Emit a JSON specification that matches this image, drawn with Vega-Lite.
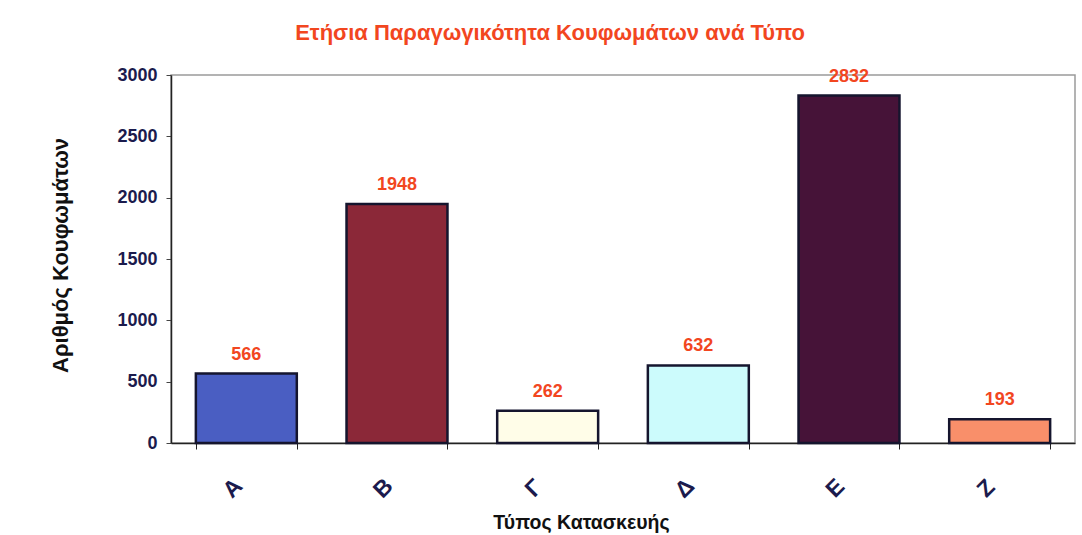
{
  "$schema": "https://vega.github.io/schema/vega-lite/v6.json",
  "autosize": {"type": "none"},
  "width": 904,
  "height": 368,
  "padding": {"left": 171, "top": 75, "right": 7, "bottom": 92},
  "background": "white",
  "title": {
    "text": "Ετήσια Παραγωγικότητα Κουφωμάτων ανά Τύπο",
    "color": "#f2461f",
    "fontSize": 22,
    "font": "Liberation Sans",
    "fontWeight": "bold",
    "anchor": "middle",
    "dx": -73,
    "offset": 21
  },
  "config": {
    "view": {"stroke": "#9a9a9a", "strokeWidth": 1.5},
    "font": "Liberation Sans"
  },
  "data": {
    "values": [
      {"type": "Α", "value": 566, "color": "#4a5ec2"},
      {"type": "Β", "value": 1948, "color": "#8b2838"},
      {"type": "Γ", "value": 262, "color": "#fffde8"},
      {"type": "Δ", "value": 632, "color": "#ccfbfc"},
      {"type": "Ε", "value": 2832, "color": "#461338"},
      {"type": "Ζ", "value": 193, "color": "#f98f6a"}
    ]
  },
  "encoding": {
    "x": {
      "field": "type",
      "type": "nominal",
      "sort": null,
      "scale": {"paddingInner": 0.33, "paddingOuter": 0.165},
      "axis": {
        "title": "Τύπος Κατασκευής",
        "titleFontSize": 19.5,
        "titleFontWeight": "bold",
        "titleColor": "#111111",
        "titleX": 410,
        "titleY": 79,
        "titleBaseline": "middle",
        "titleAnchor": "middle",
        "labelAngle": -45,
        "labelAlign": "center",
        "labelBaseline": "middle",
        "labelFontSize": 23,
        "labelFontWeight": "bold",
        "labelColor": "#1b1b4d",
        "labelPadding": 39,
        "labelOffset": -14,
        "tickBand": "extent",
        "tickSize": 6,
        "tickColor": "#222222",
        "domainColor": "#222222",
        "domainWidth": 1.5
      }
    },
    "y": {
      "field": "value",
      "type": "quantitative",
      "scale": {"domain": [0, 3000], "nice": false},
      "axis": {
        "title": "Αριθμός Κουφωμάτων",
        "titleFontSize": 22,
        "titleFontWeight": "bold",
        "titleColor": "#111111",
        "titleAngle": -90,
        "titleX": -111,
        "titleY": 180,
        "titleBaseline": "middle",
        "titleAnchor": "middle",
        "values": [0, 500, 1000, 1500, 2000, 2500, 3000],
        "format": "d",
        "labelFontSize": 18,
        "labelFontWeight": "bold",
        "labelColor": "#1b1b4d",
        "labelPadding": 9,
        "tickSize": 5,
        "tickColor": "#444444",
        "domainColor": "#222222",
        "domainWidth": 1.5,
        "grid": false
      }
    }
  },
  "layer": [
    {
      "mark": {"type": "bar", "stroke": "#15152e", "strokeWidth": 2.5},
      "encoding": {
        "color": {"field": "color", "type": "nominal", "scale": null}
      }
    },
    {
      "mark": {
        "type": "text",
        "dy": -19,
        "baseline": "middle",
        "fontSize": 18,
        "fontWeight": "bold",
        "color": "#f2461f"
      },
      "encoding": {
        "text": {"field": "value", "type": "quantitative"}
      }
    }
  ]
}
